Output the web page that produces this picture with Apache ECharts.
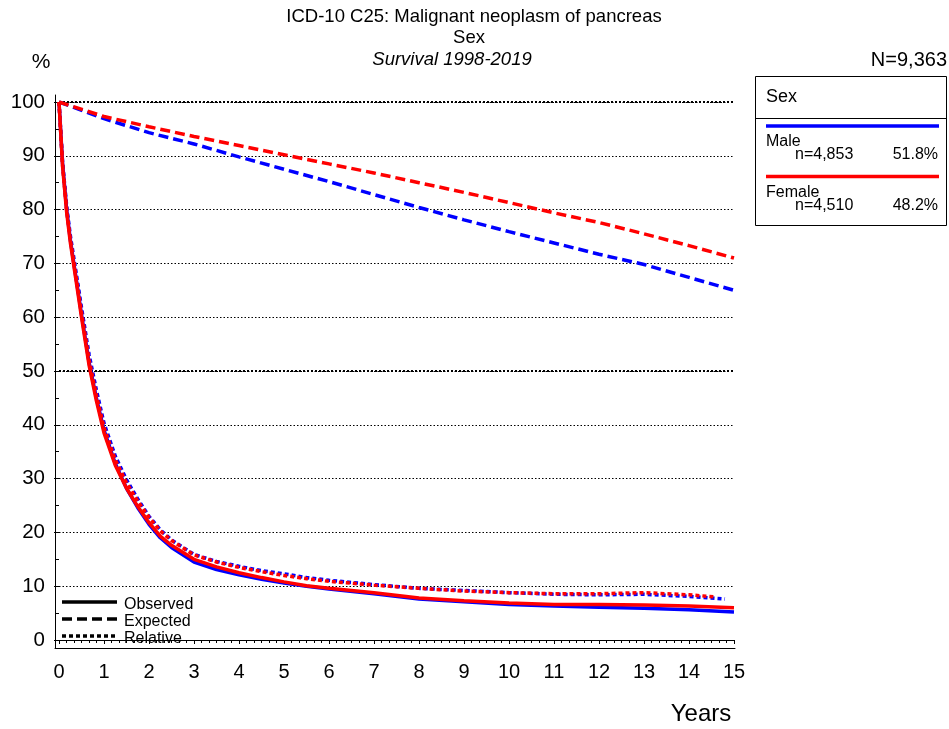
<!DOCTYPE html>
<html>
<head>
<meta charset="utf-8">
<script src="https://cdn.jsdelivr.net/npm/echarts@6/dist/echarts.min.js"></script>
<style>html,body{margin:0;padding:0;background:#fff;}#main{width:949px;height:729px;}</style>
</head>
<body>
<div id="main"></div>
<script>
// ---- data ----
const timeObs = [0, 0.08, 0.17, 0.25, 0.33, 0.42, 0.5, 0.67, 0.83, 1, 1.25, 1.5, 1.75, 2, 2.25, 2.5, 3, 3.5, 4, 4.5, 5, 5.5, 6, 7, 8, 9, 10, 11, 12, 13, 14, 15];
const maleObserved = [100, 88.5, 80, 74.5, 70, 65, 60.5, 51.5, 45, 39, 32.8, 28.2, 24.6, 21.5, 19.0, 17.2, 14.5, 13.1, 12.1, 11.3, 10.6, 10.0, 9.5, 8.6, 7.6, 7.1, 6.6, 6.3, 6.1, 5.9, 5.6, 5.2];
const femaleObserved = [100, 88, 79.5, 74, 69.5, 64.5, 60, 51, 44.5, 38.5, 32.5, 28.2, 24.8, 21.8, 19.3, 17.6, 15.0, 13.6, 12.5, 11.6, 10.8, 10.1, 9.6, 8.8, 7.8, 7.3, 6.9, 6.6, 6.6, 6.5, 6.3, 6.0];

const timeRelMale = [0, 0.08, 0.17, 0.25, 0.33, 0.42, 0.5, 0.67, 0.83, 1, 1.25, 1.5, 1.75, 2, 2.25, 2.5, 3, 3.5, 4, 4.5, 5, 5.5, 6, 7, 8, 9, 10, 11, 12, 13, 14, 14.8];
const maleRelative = [100, 88.8, 80.7, 75.3, 71, 66.2, 61.8, 53, 46.5, 40.3, 34.2, 29.8, 26.2, 23.0, 20.5, 18.6, 15.9, 14.6, 13.7, 12.9, 12.3, 11.6, 11.1, 10.3, 9.6, 9.2, 8.8, 8.5, 8.4, 8.5, 8.1, 7.6];
const timeRelFemale = [0, 0.08, 0.17, 0.25, 0.33, 0.42, 0.5, 0.67, 0.83, 1, 1.25, 1.5, 1.75, 2, 2.25, 2.5, 3, 3.5, 4, 4.5, 5, 5.5, 6, 7, 8, 9, 10, 11, 12, 13, 14, 14.6];
const femaleRelative = [100, 88.2, 80, 74.5, 70.2, 65.3, 60.9, 52, 45.5, 39.5, 33.5, 29.2, 25.8, 22.8, 20.3, 18.5, 15.8, 14.5, 13.5, 12.7, 12.0, 11.4, 10.9, 10.2, 9.6, 9.1, 8.8, 8.6, 8.6, 8.8, 8.4, 8.0];

const timeExp = [0, 1, 2, 3, 4, 5, 6, 7, 8, 9, 10, 11, 12, 13, 14, 15];
const maleExpected = [100, 96.9, 94.3, 92.2, 89.8, 87.5, 85.2, 82.8, 80.4, 78.1, 75.9, 73.8, 71.7, 69.8, 67.4, 65];
const femaleExpected = [100, 97.3, 95.4, 93.6, 91.9, 90.2, 88.5, 86.8, 85.0, 83.2, 81.3, 79.4, 77.6, 75.5, 73.3, 71];

const xTicks = [0, 1, 2, 3, 4, 5, 6, 7, 8, 9, 10, 11, 12, 13, 14, 15];
const yTicks = [0, 10, 20, 30, 40, 50, 60, 70, 80, 90, 100];

const groups = ['Male', 'Female'];
const groupN = ['n=4,853', 'n=4,510'];
const groupPct = ['51.8%', '48.2%'];
const groupColors = ['#0000ff', '#ff0000'];

// ---- chart ----
const FONT = 'Liberation Sans, Arial, sans-serif';
const pairs = (xs, ys) => xs.map((x, i) => [x, ys[i]]);

function lineSeries(name, xs, ys, color, kind) {
  let type = 'solid';
  if (kind === 'exp') type = [10, 5];
  if (kind === 'rel') type = [4, 3];
  return {
    name: name, type: 'line', xAxisIndex: 0, yAxisIndex: 0,
    data: pairs(xs, ys), showSymbol: false, symbol: 'none', smooth: false,
    lineStyle: { color: color, width: 3.5, type: type, cap: 'butt' },
    silent: true, animation: false
  };
}

const chart = echarts.init(document.getElementById('main'), null, { renderer: 'canvas' });

const graphic = [];
function txt(x, y, s, size, opts) {
  graphic.push(Object.assign({
    type: 'text', x: x, y: y,
    style: Object.assign({ text: s, font: size + 'px ' + FONT, fill: '#000', textAlign: 'center', textVerticalAlign: 'middle' }, opts && opts.style || {})
  }, opts && opts.el || {}));
}
txt(474, 17, 'ICD-10 C25: Malignant neoplasm of pancreas', 18.5);
txt(469, 38, 'Sex', 18.5);
graphic.push({ type: 'text', x: 452, y: 60, style: { text: 'Survival 1998-2019', font: 'italic 18.5px ' + FONT, fill: '#000', textAlign: 'center', textVerticalAlign: 'middle' } });
txt(41, 62, '%', 21);
txt(947, 60, 'N=9,363', 20, { style: { textAlign: 'right' } });
txt(701, 714, 'Years', 24);

// legend box
graphic.push({ type: 'rect', shape: { x: 755.5, y: 76.5, width: 191, height: 149 }, style: { fill: '#fff', stroke: '#000', lineWidth: 1 } });
graphic.push({ type: 'line', shape: { x1: 755.5, y1: 118.5, x2: 946.5, y2: 118.5 }, style: { stroke: '#000', lineWidth: 1 } });
txt(766, 97, 'Sex', 18, { style: { textAlign: 'left' } });
const rowY = [126, 176.5];
groups.forEach((g, i) => {
  const y0 = rowY[i];
  graphic.push({ type: 'line', shape: { x1: 766, y1: y0, x2: 939, y2: y0 }, style: { stroke: groupColors[i], lineWidth: 3.5 } });
  txt(766, y0 + 16, g, 16, { style: { textAlign: 'left' } });
  txt(795, y0 + 29, groupN[i], 16, { style: { textAlign: 'left' } });
  txt(938, y0 + 29, groupPct[i], 16, { style: { textAlign: 'right' } });
});

// line-type legend
const lt = [['Observed', 'solid', 602], ['Expected', [10, 5], 619], ['Relative', [4, 3], 636]];
lt.forEach(r => {
  graphic.push({ type: 'line', shape: { x1: 62, y1: r[2], x2: 117, y2: r[2] }, style: { stroke: '#000', lineWidth: 3.5, lineDash: r[1] === 'solid' ? null : r[1] } });
  txt(124, r[2] + 3, r[0], 16, { style: { textAlign: 'left' } });
});

const option = {
  animation: false,
  backgroundColor: '#fff',
  grid: [
    { left: 59, right: 215, top: 102, bottom: 89 },
    { left: 55, right: 214, top: 95, bottom: 81 }
  ],
  xAxis: [
    {
      gridIndex: 0, type: 'value', min: 0, max: 15, interval: 1, offset: 8,
      axisLine: { show: true, lineStyle: { color: '#000', width: 1 } },
      axisTick: { show: true, length: 4, lineStyle: { color: '#000' } },
      minorTick: { show: true, splitNumber: 6, length: 3, lineStyle: { color: '#000' } },
      axisLabel: { show: true, color: '#000', fontSize: 20, fontFamily: FONT, margin: 14 },
      splitLine: { show: false }
    },
    {
      gridIndex: 1, type: 'value', min: 0, max: 1,
      axisLine: { show: true, lineStyle: { color: '#000', width: 1 } },
      axisTick: { show: false }, axisLabel: { show: false }, splitLine: { show: false }
    }
  ],
  yAxis: [
    {
      gridIndex: 0, type: 'value', min: 0, max: 100, interval: 10, offset: 4,
      axisLine: { show: false },
      axisTick: { show: true, length: 5, lineStyle: { color: '#000' } },
      minorTick: { show: true, splitNumber: 2, length: 3, lineStyle: { color: '#000' } },
      axisLabel: { show: true, color: '#000', fontSize: 20.5, fontFamily: FONT, margin: 10 },
      splitLine: { show: true, showMinLine: false, lineStyle: { color: '#000', width: 1, type: [1.5, 2] } }
    },
    {
      gridIndex: 0, type: 'value', min: 0, max: 100, interval: 50,
      axisLine: { show: false }, axisTick: { show: false }, axisLabel: { show: false },
      splitLine: { show: true, showMinLine: false, lineStyle: { color: '#000', width: 2, type: [2, 2] } }
    },
    {
      gridIndex: 1, type: 'value', min: 0, max: 1,
      axisLine: { show: true, lineStyle: { color: '#000', width: 1 } },
      axisTick: { show: false }, axisLabel: { show: false }, splitLine: { show: false }
    }
  ],
  series: [
    lineSeries('Male expected', timeExp, maleExpected, groupColors[0], 'exp'),
    lineSeries('Female expected', timeExp, femaleExpected, groupColors[1], 'exp'),
    lineSeries('Male relative', timeRelMale, maleRelative, groupColors[0], 'rel'),
    lineSeries('Male observed', timeObs, maleObserved, groupColors[0], 'obs'),
    lineSeries('Female relative', timeRelFemale, femaleRelative, groupColors[1], 'rel'),
    lineSeries('Female observed', timeObs, femaleObserved, groupColors[1], 'obs')
  ],
  graphic: graphic
};
chart.setOption(option);
</script>
</body>
</html>
